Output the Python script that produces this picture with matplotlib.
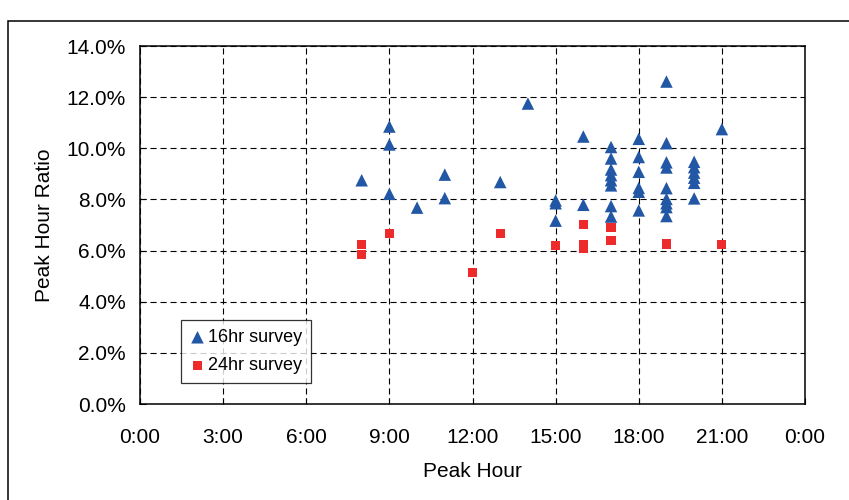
import matplotlib
matplotlib.use('Agg')
import matplotlib.pyplot as plt
from matplotlib.patches import Rectangle
from matplotlib.ticker import FixedLocator, PercentFormatter

plt.rcParams['font.family'] = ['Liberation Sans', 'DejaVu Sans']

# peak hour (hours after midnight) and peak hour ratio (%) per survey site
hours_16hr = [8, 9, 9, 9, 10, 11, 11, 13, 14, 15, 15, 15, 16, 16,
              17, 17, 17, 17, 17, 17, 17, 17,
              18, 18, 18, 18, 18, 18,
              19, 19, 19, 19, 19, 19, 19, 19, 19,
              20, 20, 20, 20, 20, 20, 21]
ratio_16hr = [8.75, 10.85, 10.15, 8.22, 7.68, 8.97, 8.05, 8.68, 11.75, 7.96, 7.85, 7.17, 10.46, 7.79,
              10.05, 9.60, 9.17, 8.95, 8.75, 8.55, 7.74, 7.33,
              10.37, 9.66, 9.08, 8.45, 8.30, 7.57,
              12.61, 10.20, 9.45, 9.25, 8.44, 8.02, 7.85, 7.70, 7.35,
              9.47, 9.26, 9.05, 8.85, 8.65, 8.04, 10.75]

hours_24hr = [8, 8, 9, 12, 13, 15, 16, 16, 16, 17, 17, 19, 21]
ratio_24hr = [6.24, 5.85, 6.68, 5.14, 6.68, 6.20, 7.03, 6.25, 6.07, 6.90, 6.38, 6.26, 6.25]

x_ticks = [0, 3, 6, 9, 12, 15, 18, 21, 24]
x_labels = ['0:00', '3:00', '6:00', '9:00', '12:00', '15:00', '18:00', '21:00', '0:00']
y_ticks = [0, 2, 4, 6, 8, 10, 12, 14]

blue = '#2157a5'
red = '#ee2b2b'

fig = plt.figure(figsize=(8.49, 5.0), dpi=100)
ax = fig.add_axes([140 / 849, 96 / 500, 665 / 849, 358 / 500])

ax.scatter(hours_16hr, ratio_16hr, marker='^', s=9 ** 2, color=blue,
           edgecolors='none', label='16hr survey', zorder=3)
ax.scatter(hours_24hr, ratio_24hr, marker='s', s=6.6 ** 2, color=red,
           edgecolors='none', label='24hr survey', zorder=3)

ax.set_xlim(0, 24)
ax.set_ylim(0, 14)
ax.xaxis.set_major_locator(FixedLocator(x_ticks))
ax.set_xticklabels(x_labels)
ax.yaxis.set_major_locator(FixedLocator(y_ticks))
ax.yaxis.set_major_formatter(PercentFormatter(decimals=1))

ax.grid(True, color='black', linestyle=(0, (5.5, 3.5)), linewidth=0.8)
ax.set_axisbelow(True)
for s in ax.spines.values():
    s.set_linewidth(1.1)
    s.set_zorder(4)

ax.tick_params(axis='both', direction='in', length=4, width=0.8, labelsize=15)
ax.tick_params(axis='x', pad=17)
ax.tick_params(axis='y', pad=10)

ax.set_xlabel('Peak Hour', fontsize=15, labelpad=11)
ax.set_ylabel('Peak Hour Ratio', fontsize=15, labelpad=9)

leg = ax.legend(loc='lower left', bbox_to_anchor=(0.062, 0.059), borderaxespad=0,
                fontsize=13, frameon=True, fancybox=False, handletextpad=0.2,
                handlelength=0.8, borderpad=0.5, labelspacing=0.6)
leg.get_frame().set_edgecolor('black')
leg.get_frame().set_linewidth(0.9)
leg.set_zorder(5)

# outer chart border
fig.patches.append(Rectangle((8 / 849, -0.1), 1.0, 1.1 - 21 / 500,
                             transform=fig.transFigure, fill=False,
                             edgecolor='black', linewidth=1.1))

fig.savefig('out.png', dpi=100)
